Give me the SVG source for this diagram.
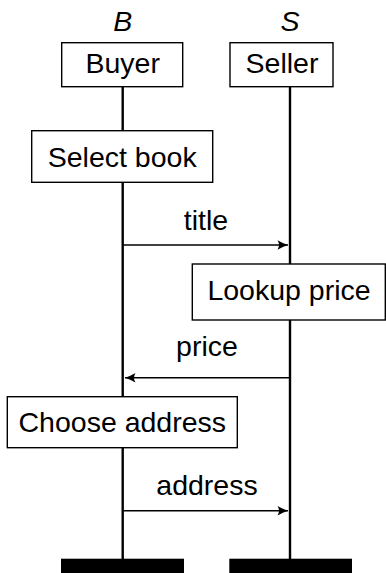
<svg xmlns="http://www.w3.org/2000/svg" width="386" height="573" viewBox="0 0 386 573">
  <style>
    text { font-family: "Liberation Sans", Arial, sans-serif; font-size: 28.5px; fill: #000; text-anchor: middle; }
    .role { font-style: italic; }
    .box { fill: #fff; stroke: #000; stroke-width: 1.4; }
    .life { stroke: #000; stroke-width: 2.4; fill: none; }
    .msg { stroke: #000; stroke-width: 1.4; fill: none; marker-end: url(#tip); }
    .bar { fill: #000; }
  </style>
  <defs>
    <marker id="tip" viewBox="-11 -6 13 12" refX="1" refY="0" markerWidth="13" markerHeight="12" markerUnits="userSpaceOnUse" orient="auto">
      <path d="M1,0 Q-4,-1.6 -9.5,-4.8 Q-6.5,0 -9.5,4.8 Q-4,1.6 1,0 Z" fill="#000"/>
    </marker>
  </defs>

  <!-- lifelines -->
  <g id="lifelines">
    <line class="life" x1="122.7" y1="87" x2="122.7" y2="559"/>
    <line class="life" x1="290" y1="87" x2="290" y2="559"/>
  </g>

  <!-- messages -->
  <g id="connectors">
    <line class="msg" x1="123" y1="245" x2="288" y2="245"/>
    <line class="msg" x1="290" y1="377.7" x2="125" y2="377.7"/>
    <line class="msg" x1="123" y1="510.7" x2="288" y2="510.7"/>
    <text x="206" y="230">title</text>
    <text x="207" y="356">price</text>
    <text x="207" y="495">address</text>
  </g>

  <g id="buyer">
    <text class="role" x="122.7" y="31">B</text>
    <rect class="box" x="61.7" y="42.7" width="121" height="44"/>
    <text x="122.7" y="73">Buyer</text>
  </g>

  <g id="seller">
    <text class="role" x="290" y="31">S</text>
    <rect class="box" x="230" y="42.7" width="103" height="44"/>
    <text x="282" y="73">Seller</text>
  </g>

  <g id="select-book">
    <rect class="box" x="31.7" y="130.7" width="181" height="51.6"/>
    <text x="122.2" y="166.7">Select book</text>
  </g>

  <g id="lookup-price">
    <rect class="box" x="192.3" y="264" width="193" height="56"/>
    <text x="289" y="300">Lookup price</text>
  </g>

  <g id="choose-address">
    <rect class="box" x="7.3" y="396.7" width="230" height="51"/>
    <text x="122.3" y="432">Choose address</text>
  </g>

  <g id="ends">
    <rect class="bar" x="61" y="558.7" width="123" height="14.3"/>
    <rect class="bar" x="229.3" y="558.7" width="122.7" height="14.3"/>
  </g>
</svg>
